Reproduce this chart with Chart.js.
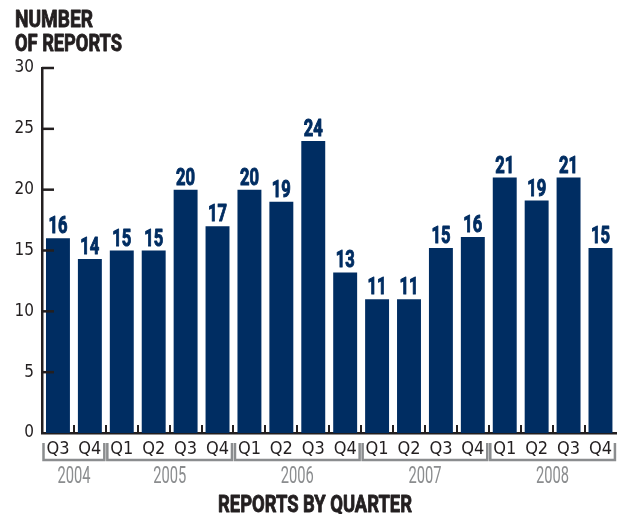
<!DOCTYPE html>
<html>
<head>
<meta charset="utf-8">
<script src="https://cdn.jsdelivr.net/npm/chart.js@4.4.0/dist/chart.umd.min.js"></script>
<style>
  html, body { margin: 0; padding: 0; background: #fff; }
  #wrap { width: 618px; height: 514px; position: relative; }
</style>
</head>
<body>
<div id="wrap"><canvas id="reportsChart"></canvas></div>
<script>
// data
const quarters = ["Q3", "Q4", "Q1", "Q2", "Q3", "Q4", "Q1", "Q2", "Q3", "Q4", "Q1", "Q2", "Q3", "Q4", "Q1", "Q2", "Q3", "Q4"];
const reportCounts = [16, 14.3, 15, 15, 20, 17, 20, 19, 24, 13.2, 11, 11, 15.2, 16.1, 21, 19.1, 21, 15.2];
const countLabels = [16, 14, 15, 15, 20, 17, 20, 19, 24, 13, 11, 11, 15, 16, 21, 19, 21, 15];
const years = ["2004", "2005", "2006", "2007", "2008"];
const quartersPerYear = [2, 4, 4, 4, 4];
const yTicks = [0, 5, 10, 15, 20, 25, 30];

const NAVY = "#002d62";
const INK = "#231f20";
const GREY = "#8b8d8f";
const NARROW = '"Liberation Sans Narrow", "DejaVu Sans Condensed", "Roboto Condensed", Roboto, sans-serif';

// draw text squeezed horizontally to look like a condensed face
// squeeze < 0 means "fit to this many pixels wide"
function squeezedText(ctx, text, x, y, font, color, squeeze, align, heavy) {
  ctx.save();
  ctx.font = font;
  ctx.fillStyle = color;
  ctx.strokeStyle = color;
  ctx.textBaseline = "alphabetic";
  ctx.textAlign = "left";
  const raw = ctx.measureText(text).width;
  if (squeeze < 0) squeeze = -squeeze / raw;
  const w = raw * squeeze;
  let left = x;
  if (align === "center") left = x - w / 2;
  else if (align === "right") left = x - w;
  ctx.translate(left, y);
  ctx.scale(squeeze, 1);
  ctx.fillText(text, 0, 0);
  if (heavy) {
    ctx.lineWidth = heavy;
    ctx.lineJoin = "round";
    ctx.strokeText(text, 0, 0);
  }
  ctx.restore();
}

const decorations = {
  id: "decorations",
  afterDraw(chart) {
    const ctx = chart.ctx;
    const x = chart.scales.x;
    const y = chart.scales.y;
    const area = chart.chartArea;
    const step = x.getPixelForValue(1) - x.getPixelForValue(0);

    // axis title, two lines
    squeezedText(ctx, "NUMBER", 15, 27, "bold 24px Roboto", INK, -78, "left", 0.9);
    squeezedText(ctx, "OF REPORTS", 15, 51, "bold 24px Roboto", INK, -107, "left", 0.9);

    // y tick marks pointing into the plot
    ctx.save();
    ctx.strokeStyle = INK;
    ctx.lineWidth = 2.5;
    yTicks.forEach((v) => {
      if (v === 0) return;
      const py = y.getPixelForValue(v);
      ctx.beginPath();
      ctx.moveTo(area.left, py);
      ctx.lineTo(area.left + 12, py);
      ctx.stroke();
    });
    // small x ticks at the category boundaries
    ctx.lineWidth = 2;
    for (let i = 1; i < quarters.length; i++) {
      const px = Math.round(x.getPixelForValue(i) - step / 2);
      ctx.beginPath();
      ctx.moveTo(px, area.bottom);
      ctx.lineTo(px, area.bottom - 8);
      ctx.stroke();
    }
    ctx.restore();

    // value labels above bars
    const bars = chart.getDatasetMeta(0).data;
    bars.forEach((bar, i) => {
      squeezedText(ctx, String(countLabels[i]), bar.x, bar.y - 5, "bold 23px Roboto", NAVY, 0.72, "center", 1);
    });

    // year brackets and labels
    ctx.save();
    ctx.strokeStyle = GREY;
    ctx.lineWidth = 2.5;
    let start = 0;
    years.forEach((year, g) => {
      const n = quartersPerYear[g];
      const left = x.getPixelForValue(start) - step / 2 + 1.5;
      const right = x.getPixelForValue(start + n - 1) + step / 2 - 1.5;
      ctx.beginPath();
      ctx.moveTo(left, 443);
      ctx.lineTo(left, 460);
      ctx.lineTo(right, 460);
      ctx.lineTo(right, 443);
      ctx.stroke();
      squeezedText(ctx, year, (left + right) / 2, 483, "23px Roboto", GREY, -33, "center");
      start += n;
    });
    ctx.restore();

    // x axis title
    squeezedText(ctx, "REPORTS BY QUARTER", 315, 512, "bold 24px Roboto", INK, -194, "center", 0.9);
  },
};

new Chart(document.getElementById("reportsChart"), {
  type: "bar",
  data: {
    labels: quarters,
    datasets: [
      {
        label: "Number of reports",
        data: reportCounts,
        backgroundColor: NAVY,
        barPercentage: 0.75,
        categoryPercentage: 1,
      },
    ],
  },
  options: {
    responsive: true,
    maintainAspectRatio: false,
    animation: false,
    layout: {
      padding: { top: 68, right: 0, bottom: 0, left: 0 },
    },
    plugins: {
      legend: { display: false },
      tooltip: { enabled: false },
    },
    scales: {
      x: {
        afterFit: function (scale) {
          scale.height = 81;
        },
        grid: { display: false, drawTicks: false },
        border: { display: true, color: INK, width: 2.5 },
        ticks: {
          color: INK,
          padding: 6,
          maxRotation: 0,
          autoSkip: false,
          font: { family: NARROW, size: 18 },
        },
      },
      y: {
        min: 0,
        max: 30,
        afterFit: function (scale) {
          scale.width = 42;
        },
        grid: { display: false, drawTicks: false },
        border: { display: true, color: INK, width: 2.5 },
        ticks: {
          stepSize: 5,
          color: INK,
          padding: 8,
          font: { family: NARROW, size: 17 },
        },
      },
    },
  },
  plugins: [decorations],
});
</script>
</body>
</html>
